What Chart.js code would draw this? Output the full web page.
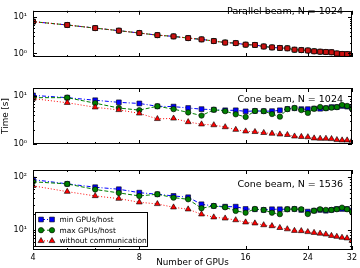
<!DOCTYPE html>
<html><head><meta charset="utf-8">
<script src="https://cdn.jsdelivr.net/npm/chart.js@4.4.1/dist/chart.umd.min.js"></script>
<style>
html,body{margin:0;padding:0;background:#fff;}
#wrap{position:relative;width:360px;height:268px;overflow:hidden;}
canvas{position:absolute;left:0;top:0;}
</style></head><body>
<div id="wrap">
<canvas id="c1" width="360" height="268" style="width:360px;height:268px"></canvas>
<canvas id="c2" width="360" height="268" style="width:360px;height:268px"></canvas>
<canvas id="c3" width="360" height="268" style="width:360px;height:268px"></canvas>
</div>
<script>
// ---- data ----
const gpus = [4,5,6,7,8,9,10,11,12,13,14,15,16,17,18,19,20,21,22,23,24,25,26,27,28,29,30,31,32];
const xTickLabels = [4,8,16,24,32];
const seriesLabels = ['min GPUs/host','max GPUs/host','without communication'];
const panelTitles = ['Parallel beam, N = 1024','Cone beam, N = 1024','Cone beam, N = 1536'];

const parallelTimes = [7.55,6.1,5.0,4.25,3.66,3.2,2.96,2.65,2.45,2.2,2.0,1.93,1.75,1.72,1.56,1.47,1.42,1.39,1.27,1.24,1.21,1.15,1.12,1.1,1.08,1.0,0.97,0.96,0.95];

const cone1024Min  = [10.5,9.4,8.3,7.5,7.1,6.2,6.1,5.7,5.4,5.25,5.1,5.1,4.85,4.95,4.9,4.9,5.1,5.45,5.65,5.4,5.4,5.55,5.5,5.65,5.95,5.95,6.3,6.1,5.7];
const cone1024Max  = [9.4,9.4,7.2,5.7,5.15,6.2,5.4,4.6,3.95,5.25,4.9,4.2,3.7,4.95,4.9,4.25,3.75,5.4,5.7,5.15,4.5,5.5,6.0,5.65,5.8,5.95,6.6,6.3,5.6];
const cone1024Comm = [9.0,7.35,5.9,5.2,4.4,3.37,3.45,2.9,2.6,2.5,2.27,2.0,1.85,1.8,1.72,1.66,1.6,1.56,1.45,1.42,1.4,1.32,1.3,1.3,1.28,1.22,1.2,1.2,1.18];

const cone1536Min  = [89,74,64,58.6,50.5,47.2,43.8,41.4,30.5,28.4,27.5,27.5,24.9,24.6,23.9,24.6,24.6,24.6,24.9,23.9,22.2,23.1,23.9,23.1,23.9,24.9,24.9,24.9,23.1];
const cone1536Max  = [81,73.8,58,50,43.8,47.2,40.7,37.9,25.7,28.4,26.8,22.9,21.2,24.9,23.9,21.2,19.9,24.6,24.9,24.6,20.0,23.1,24.6,23.9,23.9,24.6,26.4,24.6,22.2];
const cone1536Comm = [68,52.8,43.8,39,33.3,31,26.8,24.6,19.8,17.4,16.6,15.4,14.0,13.4,12.4,11.9,11.0,10.4,9.7,9.6,9.2,8.9,8.6,8.3,7.8,7.5,7.2,7.0,6.3];

// ---- helpers ----
const FONT = 'DejaVu Sans';
const SUP = {'-1':'\u207B\u00B9','0':'\u2070','1':'\u00B9','2':'\u00B2','3':'\u00B3'};
function decades(min,max){const t=[];for(let e=Math.floor(Math.log10(min));e<=Math.ceil(Math.log10(max));e++){const v=Math.pow(10,e);if(v>=min*0.999&&v<=max*1.001)t.push(v);}return t;}
function minors(min,max){const t=[];for(let e=Math.floor(Math.log10(min));e<=Math.ceil(Math.log10(max));e++){for(let m=2;m<=9;m++){const v=m*Math.pow(10,e);if(v>min&&v<max)t.push(v);}}return t;}
const pts = arr => arr.map((v,i)=>({x:gpus[i],y:v}));

const STY = [
  {color:'#0000ff', dash:[4,2,1,2], point:'rect', r:3.4},
  {color:'#008000', dash:[4,2], point:'circle', r:2.7},
  {color:'#ff0000', dash:[1,2], point:'triangle', r:3.4}
];

function ds(arr,k,label){
  const s=STY[k];
  return {label:label,data:pts(arr),borderColor:s.color,borderWidth:1,borderDash:s.dash,
    pointStyle:s.point,pointRadius:s.r,pointBackgroundColor:s.color,pointBorderColor:'#000',
    pointBorderWidth:0.6,tension:0,clip:0,fill:false,order:3-k};
}

const framePlugin = {
  id:'frame',
  afterDatasetsDraw(chart,args,o){
    const {ctx,chartArea:a,scales:{x,y}}=chart;
    ctx.save();
    ctx.strokeStyle='#000';ctx.lineWidth=1;
    ctx.beginPath();
    for(const v of decades(y.min,y.max)){const p=Math.round(y.getPixelForValue(v))+0.5;ctx.moveTo(a.left,p);ctx.lineTo(a.left+4,p);ctx.moveTo(a.right,p);ctx.lineTo(a.right-4,p);}
    for(const v of minors(y.min,y.max)){const p=Math.round(y.getPixelForValue(v))+0.5;ctx.moveTo(a.left,p);ctx.lineTo(a.left+2,p);ctx.moveTo(a.right,p);ctx.lineTo(a.right-2,p);}
    for(const v of xTickLabels){const p=Math.round(x.getPixelForValue(v))+0.5;ctx.moveTo(p,a.bottom);ctx.lineTo(p,a.bottom-4);ctx.moveTo(p,a.top);ctx.lineTo(p,a.top+4);}
    for(const v of [5,6,7]){const p=Math.round(x.getPixelForValue(v))+0.5;ctx.moveTo(p,a.bottom);ctx.lineTo(p,a.bottom-2);ctx.moveTo(p,a.top);ctx.lineTo(p,a.top+2);}
    ctx.stroke();
    ctx.strokeRect(Math.round(a.left)+0.5,Math.round(a.top)+0.5,Math.round(a.right-a.left)-1,Math.round(a.bottom-a.top)-1);
    // panel title
    ctx.fillStyle='#000';ctx.font='9.5px "'+FONT+'"';ctx.textAlign='right';ctx.textBaseline='middle';
    ctx.fillText(o.title,o.tx,o.ty);
    // legend
    if(o.legend){
      const L=o.legend;
      ctx.fillStyle='#fff';ctx.fillRect(L.x,L.y,L.w,L.h);
      ctx.strokeStyle='#000';ctx.lineWidth=1;ctx.strokeRect(L.x+0.5,L.y+0.5,L.w,L.h);
      chart.data.datasets.forEach((d,i)=>{
        const yy=L.y+L.row0+i*L.dy;
        ctx.save();ctx.strokeStyle=d.borderColor;ctx.lineWidth=1;ctx.setLineDash(d.borderDash);
        ctx.beginPath();ctx.moveTo(L.m1,yy);ctx.lineTo(L.m2,yy);ctx.stroke();ctx.restore();
        for(const mx of [L.m1,L.m2]){
          ctx.fillStyle=d.pointBackgroundColor;ctx.strokeStyle='#000';ctx.lineWidth=0.6;
          Chart.helpers.drawPoint(ctx,{pointStyle:d.pointStyle,radius:d.pointRadius,borderWidth:0.6},mx,yy);
        }
        ctx.fillStyle='#000';ctx.font='7.4px "'+FONT+'"';ctx.textAlign='left';ctx.textBaseline='middle';
        ctx.fillText(d.label,L.tx,yy+0.5);
      });
    }
    ctx.restore();
  }
};

function makePanel(id,datasets,yMin,yMax,pad,opts){
  const isBottom=!!opts.bottom;
  return new Chart(document.getElementById(id),{
    type:'line',
    data:{datasets},
    plugins:[framePlugin],
    options:{
      responsive:false,animation:false,devicePixelRatio:1,
      layout:{padding:pad},
      plugins:{legend:{display:false},tooltip:{enabled:false},
        frame:{title:opts.title,tx:343,ty:opts.ty,legend:opts.legend}},
      scales:{
        x:{type:'logarithmic',min:4,max:32,display:isBottom,
          grid:{display:false,drawTicks:false},border:{display:false},
          afterBuildTicks:s=>{s.ticks=xTickLabels.map(v=>({value:v}));},
          afterFit:s=>{s.height=18;},
          ticks:{autoSkip:false,maxRotation:0,padding:3,color:'#000',font:{family:FONT,size:8},callback:v=>String(v)},
          title:{display:isBottom,text:'Number of GPUs',color:'#000',font:{family:FONT,size:8.8},padding:{top:0,bottom:0}}
        },
        y:{type:'logarithmic',min:yMin,max:yMax,
          grid:{display:false,drawTicks:false},border:{display:false},
          afterBuildTicks:s=>{s.ticks=decades(yMin,yMax).map(v=>({value:v}));},
          afterFit:s=>{s.width=33;},
          ticks:{autoSkip:false,padding:6,color:'#000',font:{family:FONT,size:8},
            callback:v=>'10'+SUP[String(Math.round(Math.log10(v)))]},
          title:{display:!!opts.ytitle,text:opts.ytitle||'',color:'#000',font:{family:FONT,size:8.8},padding:{top:0,bottom:0}}
        }
      }
    }
  });
}

makePanel('c1',[ds(parallelTimes,0,seriesLabels[0]),ds(parallelTimes,1,seriesLabels[1]),
  Object.assign(ds(parallelTimes,2,seriesLabels[2]),{pointStyle:'rect',pointRadius:3.4,pointBackgroundColor:'#cc1111'})],
  0.8,15,{top:2,bottom:193,left:0,right:8},{title:panelTitles[0],ty:12});

makePanel('c2',[ds(cone1024Min,0,seriesLabels[0]),ds(cone1024Max,1,seriesLabels[1]),ds(cone1024Comm,2,seriesLabels[2])],
  1,15,{top:88,bottom:106,left:0,right:8},{title:panelTitles[1],ty:100,ytitle:'Time [s]'});

makePanel('c3',[ds(cone1536Min,0,seriesLabels[0]),ds(cone1536Max,1,seriesLabels[1]),ds(cone1536Comm,2,seriesLabels[2])],
  4.2,135,{top:170,bottom:0,left:0,right:8},{title:panelTitles[2],ty:185,bottom:true,
  legend:{x:35,y:212,w:112,h:34,row0:7.5,dy:10.7,m1:41,m2:52,tx:59.5}});
</script>
</body></html>
